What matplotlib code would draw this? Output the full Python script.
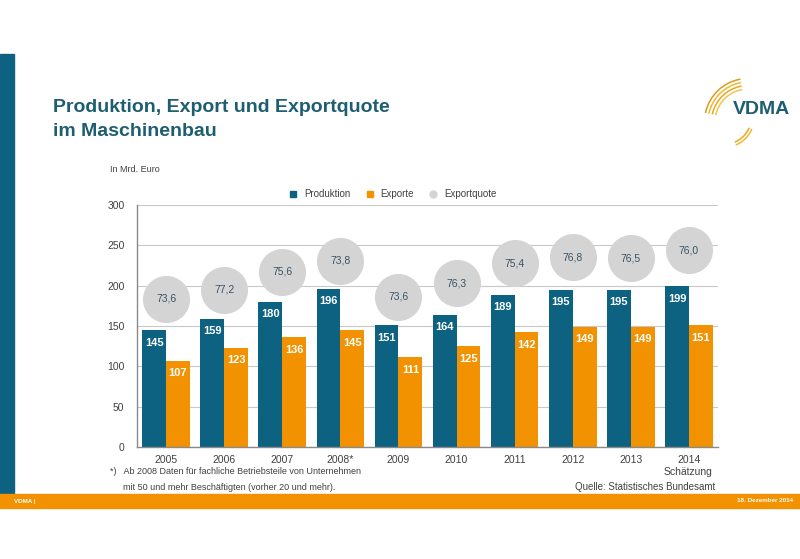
import matplotlib.pyplot as plt
from matplotlib.patches import Rectangle, Arc
from matplotlib.lines import Line2D

plt.rcParams['font.family'] = ['Liberation Sans', 'DejaVu Sans']

# data
years = ["2005", "2006", "2007", "2008*", "2009", "2010", "2011", "2012", "2013", "2014"]
produktion = [145, 159, 180, 196, 151, 164, 189, 195, 195, 199]
exporte = [107, 123, 136, 145, 111, 125, 142, 149, 149, 151]
exportquote = [73.6, 77.2, 75.6, 73.8, 73.6, 76.3, 75.4, 76.8, 76.5, 76.0]
# height (in Mrd. Euro) at which each Exportquote bubble sits
quote_height = [184, 195, 217, 231, 186, 203, 228, 235, 234, 244]

teal = "#0d6282"
orange = "#f39200"
bubble = "#d4d4d4"
title_col = "#1d5e70"
text_col = "#404040"

fig = plt.figure(figsize=(8, 5.59), dpi=100)

# slide decoration: left strip and footer bar
fig.patches.append(Rectangle((0, 1 - 494 / 559), 14 / 800, (494 - 54) / 559,
                             transform=fig.transFigure, color=teal, zorder=0))
fig.patches.append(Rectangle((0, 1 - 508 / 559), 1, 14 / 559,
                             transform=fig.transFigure, color=orange, zorder=0))
fig.text(14 / 800, 1 - 501 / 559, "VDMA |", color="white", fontsize=4.5,
         fontweight="bold", va="center")
fig.text(793 / 800, 1 - 501 / 559, "18. Dezember 2014", color="white", fontsize=4.5,
         fontweight="bold", va="center", ha="right")

# title
fig.text(53 / 800, 1 - 108 / 559, "Produktion, Export und Exportquote", color=title_col,
         fontsize=14, fontweight="bold", va="center")
fig.text(53 / 800, 1 - 131 / 559, "im Maschinenbau", color=title_col,
         fontsize=14, fontweight="bold", va="center")

# logo (drawn in pixel coordinates, y measured from bottom)
fig.text(790 / 800, 1 - 109 / 559, "VDMA", color=title_col, fontsize=14,
         fontweight="bold", va="center", ha="right")
lax = fig.add_axes([680 / 800, 1 - 150 / 559, 120 / 800, 80 / 559])
lax.set_xlim(680, 800)
lax.set_ylim(559 - 150, 559 - 70)
lax.axis("off")
gold = ["#f5c44e", "#e9a91f", "#f2b733", "#dc9a1c"]
for i, r in enumerate([33, 36.5, 40, 43.5]):
    lax.add_patch(Arc((748, 559 - 122), 2 * r, 2 * r, theta1=100, theta2=168,
                      color=gold[i], lw=1.1))
for i, r in enumerate([26, 29]):
    lax.add_patch(Arc((725, 559 - 118), 2 * r, 2 * r, theta1=292, theta2=338,
                      color=gold[i + 1], lw=1.1))

# chart
ax = fig.add_axes([137 / 800, 1 - 447 / 559, 581 / 800, 242 / 559])
x = list(range(len(years)))
w = 0.41
ax.bar([i - w / 2 for i in x], produktion, w, color=teal, zorder=2)
ax.bar([i + w / 2 for i in x], exporte, w, color=orange, zorder=2)
ax.scatter(x, quote_height, s=1150, color=bubble, zorder=3, linewidths=0)

for i in x:
    ax.annotate(str(produktion[i]), (i - w / 2, produktion[i]), xytext=(0, -9),
                textcoords="offset points", ha="center", va="center",
                color="white", fontsize=8, fontweight="bold", zorder=4)
    ax.annotate(str(exporte[i]), (i + w / 2, exporte[i]), xytext=(0, -9),
                textcoords="offset points", ha="center", va="center",
                color="white", fontsize=8, fontweight="bold", zorder=4)
    ax.text(i, quote_height[i], f"{exportquote[i]:.1f}".replace(".", ","),
            ha="center", va="center", color="#3a5466", fontsize=7.5, zorder=4)

ax.set_xlim(-0.5, len(years) - 0.5)
ax.set_ylim(0, 300)
ax.set_yticks(range(0, 301, 50))
ax.yaxis.grid(True, color="#c8c8c8", lw=0.8, zorder=0)
ax.set_axisbelow(True)
ax.set_xticks(x)
ax.set_xticklabels(years)
ax.tick_params(axis="both", length=0, labelsize=7.5, labelcolor=text_col, pad=6)
ax.tick_params(axis="y", pad=9)
for s in ["top", "right"]:
    ax.spines[s].set_visible(False)
for s in ["left", "bottom"]:
    ax.spines[s].set_color("#8a8a8a")
    ax.spines[s].set_linewidth(1.0)

handles = [
    Line2D([], [], marker="s", ls="", color=teal, markersize=5),
    Line2D([], [], marker="s", ls="", color=orange, markersize=5),
    Line2D([], [], marker="o", ls="", color=bubble, markersize=5),
]
ax.legend(handles, ["Produktion", "Exporte", "Exportquote"], loc="center",
          bbox_to_anchor=((390 - 137) / 581, 1 + (205 - 194) / 242), ncol=3,
          frameon=False, fontsize=7, handletextpad=0.1, columnspacing=1.0,
          labelcolor=text_col)

# notes
fig.text(110 / 800, 1 - 170 / 559, "In Mrd. Euro", fontsize=6.5, color=text_col, va="center")
fig.text(688 / 800, 1 - 472 / 559, "Schätzung", fontsize=7.5, color=text_col,
         va="center", ha="center")
fig.text(110 / 800, 1 - 472 / 559, "*)   Ab 2008 Daten für fachliche Betriebsteile von Unternehmen",
         fontsize=6.5, color=text_col, va="center")
fig.text(123 / 800, 1 - 487 / 559, "mit 50 und mehr Beschäftigten (vorher 20 und mehr).",
         fontsize=6.5, color=text_col, va="center")
fig.text(715 / 800, 1 - 487 / 559, "Quelle: Statistisches Bundesamt",
         fontsize=7, color=text_col, va="center", ha="right")

fig.savefig("out.png", dpi=100)
